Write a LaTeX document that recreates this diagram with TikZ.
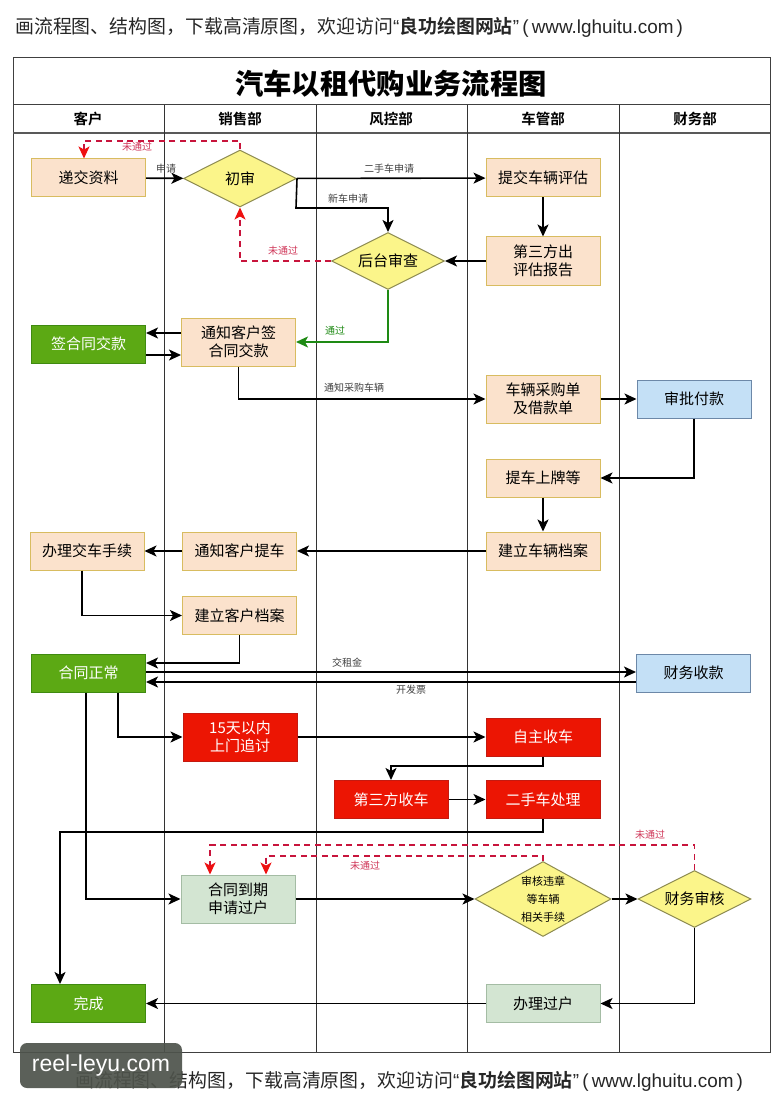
\documentclass[tikz,border=0pt]{standalone}
\usepackage{fontspec}
\setmainfont{Noto Sans CJK SC}[BoldFont={Noto Sans CJK SC Bold}]
\newfontfamily\latinfont{Liberation Sans}
\newfontfamily\titlefont{Noto Sans CJK SC Black}
\usetikzlibrary{arrows.meta, shapes.geometric, positioning}
\definecolor{peachfill}{HTML}{FBE2CC}
\definecolor{peachline}{HTML}{D8BC60}
\definecolor{yellowfill}{HTML}{FBF58A}
\definecolor{yellowline}{HTML}{8C8A50}
\definecolor{greenfill}{HTML}{5CA914}
\definecolor{greenline}{HTML}{3F8A10}
\definecolor{redfill}{HTML}{EC1503}
\definecolor{redline}{HTML}{C41A10}
\definecolor{bluefill}{HTML}{C4E0F6}
\definecolor{blueline}{HTML}{6C88A8}
\definecolor{palefill}{HTML}{D3E5D2}
\definecolor{paleline}{HTML}{A4BCA4}
\definecolor{dashred}{HTML}{C8143C}
\definecolor{tipred}{HTML}{EE1010}
\definecolor{passgreen}{HTML}{1E8A14}
\definecolor{markgrey}{HTML}{4E534B}
\newcommand{\noticetext}{画流程图、结构图，下载高清原图，欢迎访问{\latinfont “}\textbf{良功绘图网站}{\latinfont ”\,(\,www.lghuitu.com\,)}}
\tikzset{
  box/.style={draw,line width=1pt,minimum width=114,minimum height=38,inner sep=0,align=center,font=\fontsize{15}{18}\selectfont},
  tallbox/.style={box,minimum height=48},
  peachbox/.style={box,fill=peachfill,draw=peachline},
  peachtall/.style={tallbox,fill=peachfill,draw=peachline},
  greenbox/.style={box,fill=greenfill,draw=greenline,text=white},
  redbox/.style={box,fill=redfill,draw=redline,text=white},
  redtall/.style={tallbox,fill=redfill,draw=redline,text=white},
  bluebox/.style={box,fill=bluefill,draw=blueline},
  palebox/.style={box,fill=palefill,draw=paleline},
  paletall/.style={tallbox,fill=palefill,draw=paleline},
  check/.style={diamond,aspect=2,draw=yellowline,fill=yellowfill,line width=1pt,minimum width=113,minimum height=57,inner sep=0,align=center,font=\fontsize{15}{18}\selectfont},
  flow/.style={line width=1.6pt,-{Stealth[length=12pt,width=11pt,inset=3pt]}},
  pass/.style={flow,draw=passgreen},
  fail/.style={line width=1.4pt,draw=dashred,dash pattern=on 6pt off 4.5pt,-{Stealth[length=12pt,width=11pt,inset=3pt,color=tipred]}},
  tag/.style={font=\fontsize{10}{12}\selectfont,text=black!75,inner sep=0},
  failtag/.style={tag,text=dashred!85},
  passtag/.style={tag,text=passgreen},
  notice/.style={font=\fontsize{18.9}{22}\selectfont,inner sep=0,text=black!85}
}
\begin{document}
\begin{tikzpicture}[x=1pt,y=-1pt]
    \useasboundingbox (0,0) rectangle (783,1107);
    \fill[white] (0,0) rectangle (783,1107);
    %
    \node[notice,anchor=west] (topnote) at (15,27) {\noticetext};
    \node[notice,anchor=west] (bottomnote) at (75,1081) {\noticetext};
    %
    \draw[line width=1pt,black!75] (13,58) rectangle (770,1052);
    \draw[line width=1pt,black!75] (13,105) -- (770,105);
    \draw[line width=1.4pt,black!65] (13,133) -- (770,133);
    \foreach \x  in {164,316,467,619}
    \draw[line width=1pt,black!80] (\x,105) -- (\x,1052);
    \node[font=\titlefont\fontsize{28.3}{30}\selectfont] (title) at (391,84) {汽车以租代购业务流程图};
    \foreach \x / \it / \dept in {88/0/客户,240/1/销售部,391/2/风控部,543/3/车管部,695/4/财务部}
    \node[font=\fontsize{14.5}{16}\selectfont\bfseries] (head\it) at (\x,119) {\dept};
    %
    \node[peachbox] (submit) at (88.5,178) {递交资料};
    \node[check] (first) at (240,178.5) {初审};
    \node[peachbox] (assess) at (543,178) {提交车辆评估};
    \node[peachtall] (report) at (543,261) {第三方出\\评估报告};
    \node[check] (backend) at (388,261) {后台审查};
    %
    \node[greenbox] (sign) at (88.5,344) {签合同交款};
    \node[peachtall] (notify) at (238.5,342) {通知客户签\\合同交款};
    \node[peachtall] (order) at (543,399) {车辆采购单\\及借款单};
    \node[bluebox] (approve) at (694,399) {审批付款};
    \node[peachbox] (plate) at (543,478) {提车上牌等};
    \node[peachbox] (carfile) at (543,551) {建立车辆档案};
    \node[peachbox] (handover) at (87,551) {办理交车手续};
    \node[peachbox] (pickup) at (239.5,551) {通知客户提车};
    \node[peachbox] (custfile) at (239.5,615.5) {建立客户档案};
    %
    \node[greenbox] (normal) at (88.5,673) {合同正常};
    \node[bluebox] (receipt) at (693.5,673) {财务收款};
    \node[redtall] (chase) at (240,737) {15天以内\\上门追讨};
    \node[redbox] (reclaim) at (543,737) {自主收车};
    \node[redbox] (third) at (391,799.5) {第三方收车};
    \node[redbox] (used) at (543,799.5) {二手车处理};
    %
    \node[paletall] (expire) at (238,899) {合同到期\\申请过户};
    \node[check,aspect=1.8,minimum width=136,minimum height=75,font=\fontsize{11}{18}\selectfont] (violate) at (543,899) {审核违章\\等车辆\\相关手续};
    \node[check] (finance) at (694.5,899) {财务审核};
    \node[palebox] (transfer) at (543,1003.5) {办理过户};
    \node[greenbox] (done) at (88.5,1003.5) {完成};
    %
    \coordinate (failtop) at (84,141);
    \coordinate (newcar) at (296,208);
    \coordinate (turn) at (391,766);
    \coordinate (back) at (60,832);
    \coordinate (failone) at (266,856);
    \coordinate (failtwo) at (210,845);
    %
    \draw[flow] (submit) -- (first);
    \draw[flow] (first) -- (assess);
    \draw[flow] (first.east) -- (newcar) -| (backend.north);
    \draw[flow] (assess) -- (report);
    \draw[flow] (report) -- (backend);
    \draw[fail] (first.north) |- (failtop) -- (failtop |- submit.north);
    \draw[fail] (backend.west) -| (first.south);
    \draw[pass] (backend.south) |- (notify.east);
    %
    \draw[flow] ([yshift=9pt]notify.west) -- ([yshift=11pt]sign.east);
    \draw[flow] ([yshift=-11pt]sign.east) -- ([yshift=-13pt]notify.west);
    \draw[flow] (notify.south) |- (order.west);
    \draw[flow] (order) -- (approve);
    \draw[flow] (approve.south) |- (plate.east);
    \draw[flow] (plate) -- (carfile);
    \draw[flow] (carfile) -- (pickup);
    \draw[flow] (pickup) -- (handover);
    \draw[flow] ([xshift=-5pt]handover.south) |- (custfile.west);
    \draw[flow] (custfile.south) |- ([yshift=10pt]normal.east);
    %
    \draw[flow] ([yshift=1pt]normal.east) -- ([yshift=1pt]receipt.west);
    \draw[flow] ([yshift=-9pt]receipt.west) -- ([yshift=-9pt]normal.east);
    \draw[flow] ([xshift=29.5pt]normal.south) |- (chase.west);
    \draw[flow] ([xshift=-2.5pt]normal.south) |- (expire.west);
    \draw[flow] (chase) -- (reclaim);
    \draw[flow] (reclaim.south) |- (turn) -- (third.north -| turn);
    \draw[flow] (third) -- (used);
    \draw[flow] (used.south) |- (back) -- (back |- done.north);
    %
    \draw[flow] (expire.east) -- (violate.west);
    \draw[flow] (violate) -- (finance);
    \draw[flow] (finance.south) |- (transfer.east);
    \draw[flow] (transfer) -- (done);
    \draw[fail] (violate.north) |- (failone) -- (failone |- expire.north);
    \draw[fail] (finance.north) |- (failtwo) -- (failtwo |- expire.north);
    %
    \node[failtag] (failA) at (137,147) {未通过};
    \node[failtag] (failB) at (283,251) {未通过};
    \node[failtag] (failC) at (365,866) {未通过};
    \node[failtag] (failD) at (650,835) {未通过};
    \node[passtag] (passA) at (335,331) {通过};
    \node[tag] (applyA) at (166,169) {申请};
    \node[tag] (applyB) at (389,169) {二手车申请};
    \node[tag] (applyC) at (348,199) {新车申请};
    \node[tag] (buy) at (354,388) {通知采购车辆};
    \node[tag] (rent) at (347,663) {交租金};
    \node[tag] (invoice) at (411,690) {开发票};
    %
    \node[fill=markgrey,fill opacity=0.92,text opacity=1,rounded corners=7pt,minimum width=162,minimum height=45,inner sep=0,text=white,font=\latinfont\fontsize{23}{25}\selectfont] (mark) at (101,1065.5) {reel-leyu.com};
    \end{tikzpicture}
\end{document}
